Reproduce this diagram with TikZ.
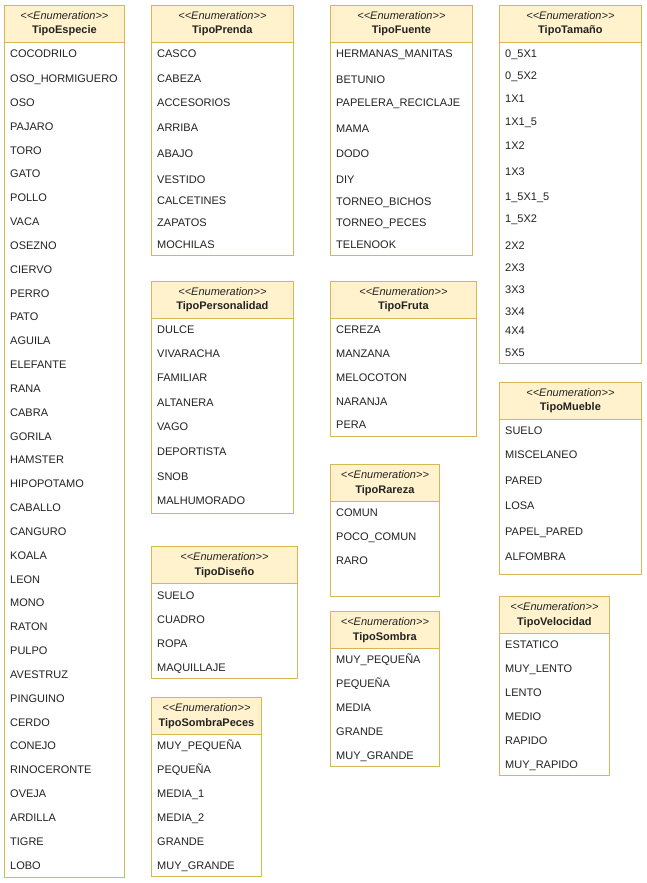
\documentclass[tikz,border=0pt]{standalone}
\usepackage{fontspec}
\setmainfont{Liberation Sans}
\usetikzlibrary{positioning}
\definecolor{borde}{HTML}{D6B656}
\definecolor{amarillo}{HTML}{FFF2CC}
\definecolor{texto}{HTML}{222222}
\tikzset{
    x=1pt, y=-1pt, % un pixel de la captura por punto
    cuerpo/.style={draw=borde, fill=white, line width=0.8pt, inner sep=0pt, anchor=north west},
    cabecera/.style={draw=borde, fill=amarillo, line width=0.8pt, inner sep=0pt, anchor=north west, minimum height=37pt, align=center, text=texto, font=\fontsize{11}{14.5}\selectfont},
    valor/.style={anchor=base west, inner sep=0pt, text=texto, font=\fontsize{11}{13}\selectfont}
}
% nombre, titulo, x, y, ancho, alto, valores
\newcommand{\enumeracion}[7]{%
    \node[cuerpo, minimum width=#5pt, minimum height=#6pt] (#1) at (#3,#4) {};
    \node[cabecera, minimum width=#5pt] (#1Cab) at (#3,#4) {\textit{<{}<Enumeration>{}>}\\\textbf{#2}};
    \foreach \t/\y [count=\i] in {#7}
        \node[valor] (#1\i) at ({#3+6},{\y+4}) {\t};
}

\begin{document}
\begin{tikzpicture}
    \useasboundingbox (0,0) rectangle (647,883);

    % Columna 1
    \enumeracion{especie}{TipoEspecie}{4}{5}{120}{872}{COCODRILO/54, OSO\_HORMIGUERO/78, OSO/102, PAJARO/126, TORO/150, GATO/173, POLLO/197, VACA/221, OSEZNO/245, CIERVO/269, PERRO/293, PATO/316, AGUILA/340, ELEFANTE/364, RANA/388, CABRA/412, GORILA/436, HAMSTER/459, HIPOPOTAMO/483, CABALLO/507, CANGURO/531, KOALA/555, LEON/579, MONO/602, RATON/626, PULPO/650, AVESTRUZ/674, PINGUINO/698, CERDO/722, CONEJO/745, RINOCERONTE/769, OVEJA/793, ARDILLA/817, TIGRE/841, LOBO/865}

    % Columna 2
    \enumeracion{prenda}{TipoPrenda}{151}{5}{142}{250}{CASCO/54, CABEZA/78, ACCESORIOS/102, ARRIBA/127, ABAJO/153, VESTIDO/179, CALCETINES/200, ZAPATOS/222, MOCHILAS/244}
    \enumeracion{personalidad}{TipoPersonalidad}{151}{281}{142}{232}{DULCE/329, VIVARACHA/353, FAMILIAR/377, ALTANERA/402, VAGO/426, DEPORTISTA/451, SNOB/476, MALHUMORADO/500}
    \enumeracion{diseno}{TipoDiseño}{151}{546}{146}{132}{SUELO/595, CUADRO/619, ROPA/643, MAQUILLAJE/667}
    \enumeracion{sombraPeces}{TipoSombraPeces}{151}{697}{110}{179}{MUY\_PEQUEÑA/745, PEQUEÑA/769, MEDIA\_1/793, MEDIA\_2/817, GRANDE/841, MUY\_GRANDE/865}

    % Columna 3
    \enumeracion{fuente}{TipoFuente}{330}{5}{142}{250}{HERMANAS\_MANITAS/54, BETUNIO/79, PAPELERA\_RECICLAJE/102, MAMA/128, DODO/153, DIY/179, TORNEO\_BICHOS/201, TORNEO\_PECES/222, TELENOOK/244}
    \enumeracion{fruta}{TipoFruta}{330}{281}{146}{155}{CEREZA/329, MANZANA/353, MELOCOTON/377, NARANJA/401, PERA/424}
    \enumeracion{rareza}{TipoRareza}{330}{464}{109}{132}{COMUN/512, POCO\_COMUN/536, RARO/560}
    \enumeracion{sombra}{TipoSombra}{330}{611}{109}{155}{MUY\_PEQUEÑA/659, PEQUEÑA/683, MEDIA/707, GRANDE/731, MUY\_GRANDE/755}

    % Columna 4
    \enumeracion{tamano}{TipoTamaño}{499}{5}{142}{358}{0\_5X1/54, 0\_5X2/76, 1X1/98, 1X1\_5/121, 1X2/145, 1X3/171, 1\_5X1\_5/196, 1\_5X2/218, 2X2/245, 2X3/267, 3X3/289, 3X4/311, 4X4/330, 5X5/352}
    \enumeracion{mueble}{TipoMueble}{499}{382}{142}{192}{SUELO/430, MISCELANEO/454, PARED/480, LOSA/505, PAPEL\_PARED/531, ALFOMBRA/556}
    \enumeracion{velocidad}{TipoVelocidad}{499}{596}{110}{179}{ESTATICO/644, MUY\_LENTO/668, LENTO/692, MEDIO/716, RAPIDO/740, MUY\_RAPIDO/764}
\end{tikzpicture}
\end{document}
